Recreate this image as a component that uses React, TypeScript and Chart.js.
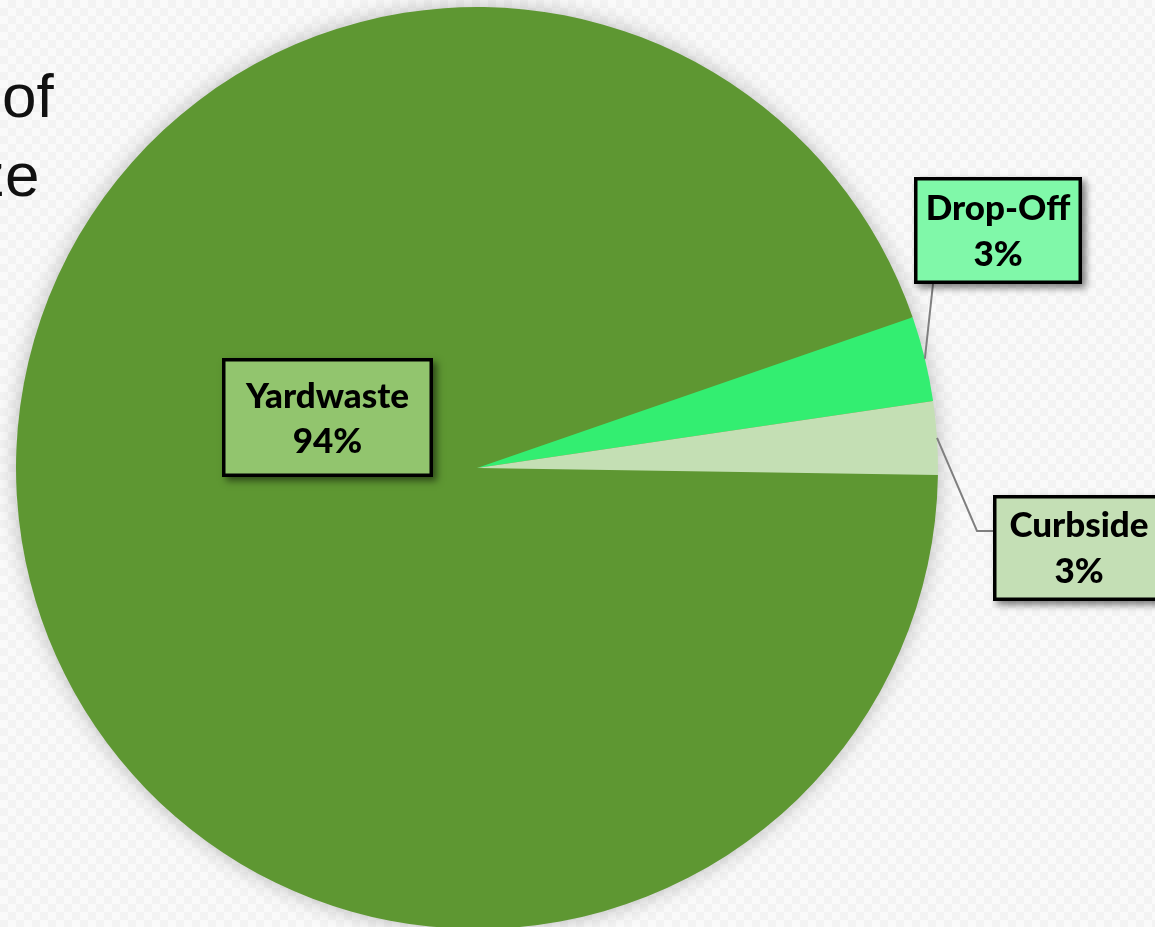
import React, { useEffect, useRef } from 'react';
import { Chart, registerables } from 'chart.js';

Chart.register(...registerables);

// ---- data ----
const categories = ['Yardwaste', 'Drop-Off', 'Curbside'];
const values = [94.46, 2.98, 2.56];
const percentLabels = ['94%', '3%', '3%'];

// ---- styles / layout ----
const sliceColors = ['#5E9732', '#33EE71', '#C4DFB4'];
const boxColors = ['#92C56E', '#80F8A9', '#C4DFB5'];
const boxes = [
  { x: 222, y: 358, w: 211, h: 119, b1: 50, b2: 95 },
  { x: 914, y: 177, w: 168, h: 107, b1: 43, b2: 89 },
  { x: 993, y: 495, w: 172, h: 106, b1: 42, b2: 88 },
];
const leaders: number[][][] = [[], [[933, 284]], [[977, 531], [993, 531]]];

const CANVAS_W = 1155;
const CANVAS_H = 940;

const pieShadowPlugin = {
  id: 'pieShadow',
  beforeDatasetsDraw(chart: any) {
    const arc = chart.getDatasetMeta(0).data[0];
    if (!arc) return;
    const p = arc.getProps(['x', 'y', 'outerRadius'], true);
    const ctx = chart.ctx;
    ctx.save();
    ctx.shadowColor = 'rgba(0,0,0,0.28)';
    ctx.shadowBlur = 22;
    ctx.shadowOffsetX = 0;
    ctx.shadowOffsetY = 0;
    ctx.fillStyle = sliceColors[0];
    ctx.beginPath();
    ctx.arc(p.x, p.y, p.outerRadius - 1, 0, Math.PI * 2);
    ctx.fill();
    ctx.restore();
  },
};

const labelPlugin = {
  id: 'boxLabels',
  afterDatasetsDraw(chart: any) {
    const ctx = chart.ctx;
    const arcs = chart.getDatasetMeta(0).data;
    arcs.forEach((arc: any, i: number) => {
      const p = arc.getProps(['x', 'y', 'startAngle', 'endAngle', 'outerRadius'], true);
      const mid = (p.startAngle + p.endAngle) / 2;
      const ex = p.x + Math.cos(mid) * p.outerRadius;
      const ey = p.y + Math.sin(mid) * p.outerRadius;
      const pts = leaders[i];
      if (pts.length) {
        ctx.save();
        ctx.strokeStyle = '#7F7F7F';
        ctx.lineWidth = 2;
        ctx.beginPath();
        ctx.moveTo(ex, ey);
        pts.forEach((q) => ctx.lineTo(q[0], q[1]));
        ctx.stroke();
        ctx.restore();
      }
      const b = boxes[i];
      ctx.save();
      ctx.shadowColor = 'rgba(0,0,0,0.5)';
      ctx.shadowBlur = 7;
      ctx.shadowOffsetX = 4;
      ctx.shadowOffsetY = 4;
      ctx.fillStyle = boxColors[i];
      ctx.fillRect(b.x, b.y, b.w, b.h);
      ctx.restore();
      ctx.save();
      ctx.strokeStyle = '#000000';
      ctx.lineWidth = 3.5;
      ctx.strokeRect(b.x + 1.75, b.y + 1.75, b.w - 3.5, b.h - 3.5);
      ctx.fillStyle = '#000000';
      ctx.font = '900 35px Lato';
      ctx.textAlign = 'center';
      ctx.textBaseline = 'alphabetic';
      const cx = b.x + b.w / 2;
      ctx.fillText(categories[i], cx, b.y + b.b1);
      ctx.fillText(percentLabels[i], cx, b.y + b.b2);
      ctx.restore();
    });
  },
};

export default function App() {
  const ref = useRef<HTMLCanvasElement | null>(null);
  useEffect(() => {
    if (!ref.current) return;
    const chart = new Chart(ref.current, {
      type: 'pie',
      data: {
        labels: categories,
        datasets: [
          {
            data: values,
            backgroundColor: sliceColors,
            borderWidth: 0,
            hoverOffset: 0,
            offset: 0,
          },
        ],
      },
      options: {
        responsive: false,
        animation: false,
        rotation: 90.87,
        layout: { padding: { left: 16, right: 217, top: 7, bottom: 11 } },
        plugins: {
          legend: { display: false },
          tooltip: { enabled: false },
        },
        events: [],
      },
      plugins: [pieShadowPlugin, labelPlugin],
    });
    return () => chart.destroy();
  }, []);

  return (
    <div
      style={{
        position: 'fixed',
        left: 0,
        top: 0,
        width: 1155,
        height: 927,
        overflow: 'hidden',
        background:
          'repeating-conic-gradient(#F3F3F3 0% 25%, #FAFAFA 0% 50%) 0 0 / 16px 16px',
      }}
    >
      <div
        style={{
          position: 'absolute',
          left: 2,
          top: 56,
          fontFamily: '"Liberation Sans", Arial, sans-serif',
          fontSize: 62,
          lineHeight: '79px',
          color: '#111',
          whiteSpace: 'pre',
        }}
      >
        of
      </div>
      <div
        style={{
          position: 'absolute',
          left: -26,
          top: 135,
          fontFamily: '"Liberation Sans", Arial, sans-serif',
          fontSize: 62,
          lineHeight: '79px',
          color: '#111',
          whiteSpace: 'pre',
        }}
      >
        ze
      </div>
      <canvas
        ref={ref}
        width={CANVAS_W}
        height={CANVAS_H}
        style={{ position: 'absolute', left: 0, top: 0, width: CANVAS_W, height: CANVAS_H }}
      />
    </div>
  );
}
